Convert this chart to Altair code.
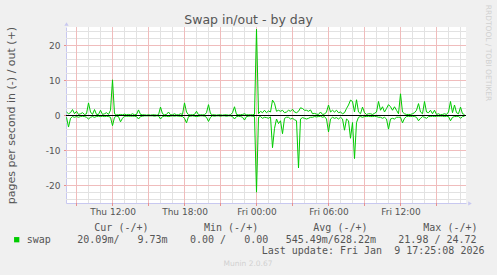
import altair as alt
import pandas as pd

# ---- data (pages per second, 10-minute samples) ----
start_time = "2026-01-08 08:10"
sample_step = "10min"

swap_out = [
    1.0, 0.5, 0.8, 1.7, 0.5, 1.2, 0.3, 0.5, 0.8, 0.3,
    0.5, 3.6, 1.0, 0.3, 1.7, 0.3, 0.3, 1.5, 0.3, 0.5,
    0.8, 0.3, 1.5, 10.2, 0.5, 0.2, 0.2, 0.3, 0.2, 0.4,
    0.2, 0.3, 0.2, 0.5, 0.2, 0.3, 1.6, 0.3, 0.2, 0.2,
    0.1, 0.2, 0.1, 0.2, 0.2, 0.1, 0.2, 2.4, 0.5, 0.2,
    0.3, 1.0, 0.2, 0.2, 0.5, 0.2, 0.2, 0.5, 0.3, 3.6,
    1.0, 0.2, 0.2, 0.2, 0.3, 1.2, 0.2, 0.2, 0.2, 0.2,
    0.8, 3.1, 0.5, 0.2, 0.2, 0.1, 0.2, 0.2, 0.1, 0.2,
    0.2, 0.1, 0.2, 0.8, 2.5, 0.3, 0.2, 0.2, 0.3, 0.5,
    0.2, 0.2, 0.2, 0.2, 0.3, 24.7, 0.5, 1.2, 0.8, 1.5,
    0.8, 1.3, 1.0, 4.4, 3.5, 1.2, 1.5, 1.2, 1.5, 0.8,
    1.0, 1.5, 1.2, 1.8, 1.0, 0.8, 1.2, 2.2, 2.0, 1.5,
    1.5, 1.2, 1.6, 0.5, 0.6, 0.4, 0.3, 1.0, 0.3, 0.4,
    1.0, 3.0, 1.0, 1.5, 1.0, 1.5, 0.8, 1.0, 0.5, 0.8,
    2.0, 3.0, 4.4, 4.0, 1.0, 4.5, 1.0, 0.5, 2.4, 0.8,
    0.3, 0.5, 0.5, 0.3, 0.6, 1.0, 4.0, 1.5, 2.5, 1.0,
    2.0, 3.1, 2.5, 1.5, 2.5, 1.5, 0.5, 6.2, 1.0, 0.5,
    0.3, 0.3, 0.3, 0.5, 0.8, 1.5, 3.4, 1.0, 0.5, 4.0,
    1.0, 0.8, 1.5, 0.5, 1.5, 0.3, 0.5, 0.2, 0.3, 0.5,
    0.3, 1.0, 4.0, 0.8, 3.0, 0.8, 0.5, 2.4, 0.5, 0.3,
]

swap_in = [
    0.5, 3.3, 0.8, 0.3, 0.5, 0.3, 0.5, 0.3, 0.2, 0.3,
    0.5, 1.0, 0.5, 0.3, 0.5, 0.3, 0.2, 0.3, 0.2, 0.3,
    0.2, 0.3, 0.5, 2.9, 0.5, 0.2, 0.3, 1.8, 0.8, 0.2,
    0.2, 0.2, 0.2, 0.2, 0.2, 0.3, 1.0, 0.3, 0.2, 0.1,
    0.1, 0.1, 0.1, 0.1, 0.2, 0.1, 0.1, 1.0, 0.3, 0.2,
    0.2, 0.3, 0.2, 0.1, 0.2, 0.1, 0.2, 0.2, 0.3, 0.8,
    2.1, 0.3, 0.2, 0.1, 0.2, 0.3, 0.2, 0.1, 0.1, 0.2,
    0.5, 1.7, 0.5, 0.1, 0.2, 0.1, 0.1, 0.2, 0.1, 0.1,
    0.2, 0.1, 0.1, 0.3, 1.0, 0.3, 0.2, 0.3, 0.5, 1.3,
    0.3, 0.2, 0.1, 0.2, 0.3, 21.9, 0.5, 0.3, 0.8, 0.5,
    0.6, 0.8, 0.4, 9.2, 3.7, 1.0, 2.3, 1.5, 5.2, 0.8,
    0.5, 0.5, 1.0, 0.8, 1.2, 1.5, 15.0, 1.0, 0.6, 0.8,
    1.0, 0.8, 0.5, 0.5, 0.3, 0.4, 0.3, 0.2, 0.5, 0.3,
    1.0, 4.7, 1.0, 0.5, 0.8, 0.6, 1.0, 0.5, 1.0, 4.2,
    1.0, 1.5, 6.5, 2.0, 12.3, 2.0, 0.5, 0.3, 0.5, 0.3,
    0.3, 0.2, 0.3, 0.3, 0.2, 0.3, 0.5, 0.5, 0.8, 0.5,
    1.0, 3.9, 1.0, 0.8, 1.0, 0.5, 0.5, 0.5, 2.1, 0.8,
    0.3, 0.2, 0.3, 0.2, 0.3, 0.5, 1.5, 0.8, 0.3, 0.5,
    0.8, 0.3, 0.3, 0.2, 0.3, 0.2, 0.2, 0.2, 0.2, 0.3,
    0.2, 0.3, 1.5, 0.5, 0.3, 0.3, 0.2, 0.8, 0.3, 0.2,
]

# tick positions
x_minor_ticks = pd.date_range("2026-01-08 09:00", "2026-01-09 17:00", freq="1h")
x_major_ticks = pd.date_range("2026-01-08 09:00", "2026-01-09 15:00", freq="3h")
x_label_ticks = pd.date_range("2026-01-08 12:00", "2026-01-09 12:00", freq="6h")
y_minor_ticks = list(range(-24, 25, 2))
y_major_ticks = [-20, -10, 0, 10, 20]

legend_headers = ["Cur (-/+)", "Min (-/+)", "Avg (-/+)", "Max (-/+)"]
legend_values = ["20.09m/\u00a0\u00a0\u00a09.73m", "0.00\u00a0/\u00a0\u00a0\u00a00.00",
                 "545.49m/628.22m", "21.98\u00a0/\u00a024.72"]
series_label = "swap"
last_update = "Last update: Fri Jan\u00a0\u00a09 17:25:08 2026"
title_text = "Swap in/out - by day"
y_title = "pages per second in (-) / out (+)"
watermark = "RRDTOOL / TOBI OETIKER"
footer = "Munin 2.0.67"

# ---- styling ----
GREEN = "#00cc00"
AXIS = "#c8c8f0"
MAJOR = "#f0bcbc"
MINOR = "#e2e2e2"
TICK = "#e89090"
TEXT = "#555555"
LEFT, TOP, W, H = 66, 27, 400, 176

n = len(swap_out)
times = pd.date_range(start_time, periods=n, freq=sample_step)
df = pd.DataFrame({
    "time": list(times) + list(times),
    "value": swap_out + [-v for v in swap_in],
    "series": ["out"] * n + ["in"] * n,
})
one = pd.DataFrame({"k": [0]})

# 12 px per hour and 3.5 px per unit, offset half a pixel so grid lines fall on pixel centres
x_scale = alt.Scale(domain=[alt.DateTime(year=2026, month=1, date=8, hours=8, minutes=7, seconds=30),
                            alt.DateTime(year=2026, month=1, date=9, hours=17, minutes=27, seconds=30)])
y_scale = alt.Scale(domain=[-25, 25 + 1 / 3.5], nice=False, zero=False)

x_axis = alt.Axis(
    values=[alt.DateTime(year=t.year, month=t.month, date=t.day, hours=t.hour) for t in x_label_ticks],
    format="%a %H:%M", labelOverlap=False, labelFlush=False,
    labelFont="DejaVu Sans", labelFontSize=9, labelColor=TEXT, labelPadding=4,
    grid=False, ticks=False, domainColor=AXIS, title=None,
)
y_axis = alt.Axis(
    values=y_major_ticks,
    labelExpr="replace(datum.label, '\u2212', '-')",
    labelOverlap=False, labelFont="DejaVu Sans", labelFontSize=9, labelColor=TEXT, labelPadding=6,
    grid=False, ticks=False, domainColor=AXIS,
    title=y_title, titleFont="DejaVu Sans", titleFontSize=11, titleFontWeight="normal",
    titleColor=TEXT, titleX=11 - LEFT, titleY=H / 2, titleBaseline="middle", titleAngle=-90,
)
X = alt.X("time:T", axis=x_axis, scale=x_scale)
Y = alt.Y("value:Q", axis=y_axis, scale=y_scale)

gx_minor = alt.Chart(pd.DataFrame({"time": x_minor_ticks})).mark_rule(
    color=MINOR, strokeWidth=1, opacity=1).encode(x=X)
gy_minor = alt.Chart(pd.DataFrame({"value": y_minor_ticks})).mark_rule(
    color=MINOR, strokeWidth=1, opacity=1).encode(y=Y)
gx_major = alt.Chart(pd.DataFrame({"time": x_major_ticks})).mark_rule(
    color=MAJOR, strokeWidth=1, opacity=1).encode(x=X)
gy_major = alt.Chart(pd.DataFrame({"value": y_major_ticks})).mark_rule(
    color=MAJOR, strokeWidth=1, opacity=1).encode(y=Y)
tx_major = alt.Chart(pd.DataFrame({"time": x_major_ticks})).mark_rule(
    color=TICK, strokeWidth=1, opacity=1).encode(x=X, y=alt.value(H), y2=alt.value(H + 3))
ty_major = alt.Chart(pd.DataFrame({"value": y_major_ticks})).mark_rule(
    color=TICK, strokeWidth=1, opacity=1).encode(y=Y, x=alt.value(-2), x2=alt.value(0))

lines = alt.Chart(df).mark_line(strokeWidth=1, color=GREEN, interpolate="linear").encode(
    x=X, y=Y, detail="series:N")

zero = alt.Chart(pd.DataFrame({"value": [0]})).mark_rule(color="#000000", strokeWidth=1).encode(y=Y)


def txt(text, px, py, size=10, font="DejaVu Sans Mono", color="#555555", align="left",
        angle=0, baseline="middle"):
    return alt.Chart(one).mark_text(
        text=text, font=font, fontSize=size, color=color, align=align, baseline=baseline, angle=angle
    ).encode(x=alt.value(px - LEFT), y=alt.value(py - TOP))


texts = [
    txt(title_text, 248.5, 24.3, size=12.5, font="DejaVu Sans", color=TEXT, align="center",
        baseline="alphabetic"),
    txt(legend_headers[0], 94.3, 228),
    txt(legend_headers[1], 204, 228),
    txt(legend_headers[2], 313.3, 228),
    txt(legend_headers[3], 423.3, 228),
    txt(series_label, 26.7, 239.5),
    txt(legend_values[0], 77.3, 239.5),
    txt(legend_values[1], 190, 239.5),
    txt(legend_values[2], 285.7, 239.5),
    txt(legend_values[3], 398.3, 239.5),
    txt(last_update, 261.7, 251),
    txt(footer, 248, 264, size=7.5, font="DejaVu Sans", color="#d0d0d0", align="center"),
    txt(watermark, 487.5, 53, size=7.5, font="DejaVu Sans", color="#d0d0d0", align="center", angle=90),
]

swatch = alt.Chart(one).mark_square(size=28, color=GREEN, opacity=1).encode(
    x=alt.value(16.7 - LEFT), y=alt.value(239.7 - TOP))
arrow_up = alt.Chart(one).mark_point(
    shape="triangle-up", filled=True, size=18, color=AXIS, opacity=1).encode(x=alt.value(0.5), y=alt.value(-3))
arrow_right = alt.Chart(one).mark_point(
    shape="triangle-right", filled=True, size=18, color=AXIS, opacity=1).encode(x=alt.value(W + 4), y=alt.value(H + 0.5))

chart = alt.layer(gx_minor, gy_minor, gx_major, gy_major, tx_major, ty_major, lines, zero,
                  swatch, arrow_up, arrow_right, *texts).properties(
    width=W, height=H,
    padding={"left": LEFT, "top": TOP, "right": 497 - LEFT - W, "bottom": 275 - TOP - H},
    autosize=alt.AutoSizeParams(type="none"),
    background="#f0f0f0",
).configure_view(stroke=None, fill="white")

chart.save("out.html", embed_options={"renderer": "svg", "actions": False})
